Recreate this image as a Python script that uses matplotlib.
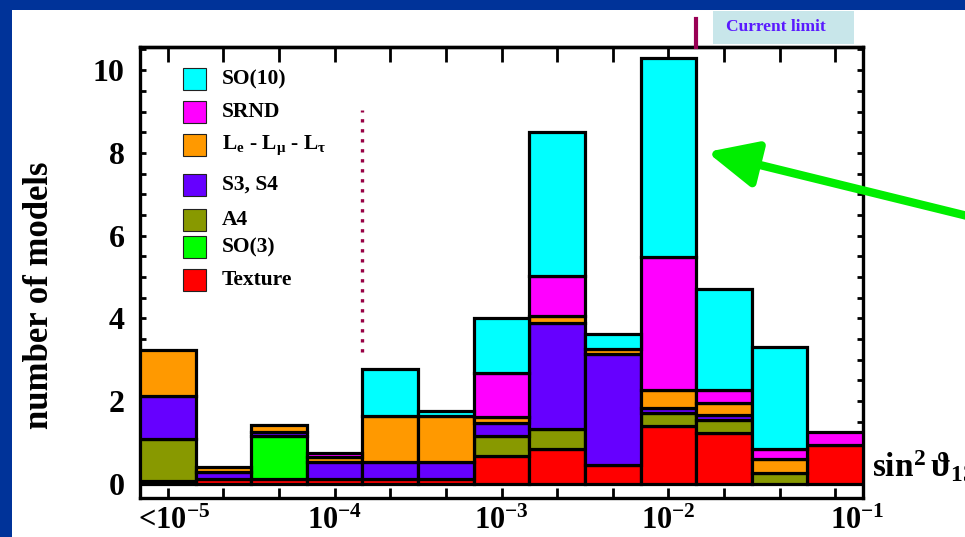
import matplotlib
matplotlib.use("Agg")
import matplotlib.pyplot as plt
from matplotlib.patches import Rectangle, FancyArrowPatch
import numpy as np

plt.rcParams['font.family'] = ['Liberation Serif', 'DejaVu Serif']
plt.rcParams['font.weight'] = 'bold'
plt.rcParams['mathtext.fontset'] = 'custom'
plt.rcParams['mathtext.rm'] = 'Liberation Serif:bold'
plt.rcParams['mathtext.bf'] = 'Liberation Serif:bold'
plt.rcParams['mathtext.it'] = 'Liberation Serif:bold'
plt.rcParams['mathtext.default'] = 'bf'
plt.rcParams['mathtext.fallback'] = 'stix'

# ---- data (13 bins of sin^2 theta_13) ----
series_names = ['Texture', 'SO(3)', 'A4', 'S3, S4',
                r'L$_\mathregular{e}$ - L$_\mu$ - L$_\tau$', 'SRND', 'SO(10)']
texture = [0.08, 0.12, 0.12, 0.12, 0.12, 0.12, 0.68, 0.85, 0.45, 1.40, 1.24, 0.00, 0.93]
so3     = [0.00, 0.00, 1.04, 0.00, 0.00, 0.00, 0.00, 0.00, 0.00, 0.00, 0.00, 0.00, 0.00]
a4      = [1.01, 0.00, 0.00, 0.00, 0.00, 0.00, 0.48, 0.47, 0.00, 0.31, 0.31, 0.27, 0.00]
s3s4    = [1.04, 0.16, 0.10, 0.40, 0.42, 0.42, 0.31, 2.57, 2.70, 0.12, 0.12, 0.00, 0.00]
lelmlt  = [1.10, 0.14, 0.17, 0.12, 1.10, 1.10, 0.15, 0.17, 0.12, 0.44, 0.28, 0.33, 0.00]
srnd    = [0.00, 0.00, 0.00, 0.11, 0.00, 0.00, 1.05, 0.96, 0.00, 3.21, 0.32, 0.24, 0.33]
so10    = [0.00, 0.00, 0.00, 0.00, 1.14, 0.13, 1.35, 3.48, 0.35, 4.82, 2.43, 2.48, 0.00]
series = [texture, so3, a4, s3s4, lelmlt, srnd, so10]
colors = ['#ff0000', '#00ff00', '#889900', '#6600ff', '#ff9900', '#ff00ff', '#00ffff']

x_labels = ['<$10^{-5}$', '$10^{-4}$', '$10^{-3}$', '$10^{-2}$', '$10^{-1}$']
x_label_pos = [0.62, 3.5, 6.5, 9.5, 12.9]

W, H = 965, 537
fig = plt.figure(figsize=(W / 100, H / 100), dpi=100)
fig.patch.set_facecolor('white')

def fx(px):
    return px / W

def fy(py):
    return 1 - py / H

ax = fig.add_axes([fx(140), fy(498), fx(863) - fx(140), fy(47) - fy(498)])
ax.set_xlim(0, 13)
ax.set_ylim(-0.34, 10.56)

nb = len(texture)
centers = np.arange(nb) + 0.5
bottom = np.zeros(nb)
for vals, col in zip(series, colors):
    vals = np.array(vals)
    m = vals > 0
    ax.bar(centers[m], vals[m], width=1.0, bottom=bottom[m], color=col,
           edgecolor='black', linewidth=2.3, zorder=3)
    bottom += vals

# axes styling
for s in ax.spines.values():
    s.set_linewidth(2.4)
yt = np.arange(0, 10.51, 0.5)
ax.set_yticks(yt)
ax.set_yticklabels([str(int(v)) if (v % 2 == 0) else '' for v in yt], fontsize=23,
                   fontweight='bold')
ax.tick_params(axis='y', direction='in', length=4, width=2, left=True, right=True, pad=11)
ax.set_xticks(centers)
ax.set_xticklabels([])
ax.tick_params(axis='x', direction='in', length=7, width=2, bottom=True, top=False)
sec = ax.secondary_xaxis('top')
sec.set_xticks(centers)
sec.set_xticklabels([])
sec.tick_params(direction='in', length=11, width=2)
sec.spines['top'].set_linewidth(2.4)

for lab, xp in zip(x_labels, x_label_pos):
    ax.text(xp, -0.068, lab, transform=ax.get_xaxis_transform(), ha='center',
            va='baseline', fontsize=22, fontweight='bold', clip_on=False)

# dotted line
ax.plot([4, 4], [3.19, 9.03], linestyle=(0, (1, 2)), color='#990044', linewidth=2.4, zorder=2)

# legend drawn manually
leg_y = [79, 112, 145, 185, 220, 247, 280]
leg_order = [6, 5, 4, 3, 2, 1, 0]
for yc, idx in zip(leg_y, leg_order):
    fig.add_artist(Rectangle((fx(183), fy(yc + 11)), fx(206) - fx(183), fy(yc - 11) - fy(yc + 11),
                             transform=fig.transFigure, facecolor=colors[idx],
                             edgecolor='#222222', linewidth=0.8, zorder=5))
    fig.text(fx(222), fy(yc), series_names[idx], ha='left', va='center', fontsize=15.5,
             fontweight='bold', zorder=5)

# y label
fig.text(fx(40), fy(295), 'number of models', rotation=90, ha='center', va='center',
         fontsize=25, fontweight='bold')

# x axis quantity
fig.text(fx(872), fy(477), r'sin$^{2}\,\vartheta_{13}$', ha='left', va='baseline', fontsize=24,
         fontweight='bold')

# current limit marker
fig.add_artist(plt.Line2D([fx(696), fx(696)], [fy(19), fy(47)], color='#990055', linewidth=3,
                          transform=fig.transFigure))
fig.add_artist(Rectangle((fx(713), fy(44)), fx(854) - fx(713), fy(11) - fy(44),
                         transform=fig.transFigure, facecolor='#c8e6ea', edgecolor='none'))
fig.text(fx(776), fy(27), 'Current limit', ha='center', va='center', fontsize=12.5,
         fontweight='bold', color='#5a1aff')

# blue frame
fig.add_artist(Rectangle((0, fy(10)), 1, 1 - fy(10), transform=fig.transFigure,
                         facecolor='#003399', edgecolor='none'))
fig.add_artist(Rectangle((0, 0), fx(12), 1, transform=fig.transFigure,
                         facecolor='#003399', edgecolor='none'))

# green arrow
arr = FancyArrowPatch((fx(990), fy(153 + 282 * 0.243)), (fx(707), fy(152)),
                      transform=fig.transFigure,
                      arrowstyle='-|>,head_length=30,head_width=14', mutation_scale=1,
                      color='#00ee00', linewidth=6, shrinkA=0, shrinkB=0, zorder=10)
fig.add_artist(arr)

fig.savefig('out.png', dpi=100, facecolor='white')
